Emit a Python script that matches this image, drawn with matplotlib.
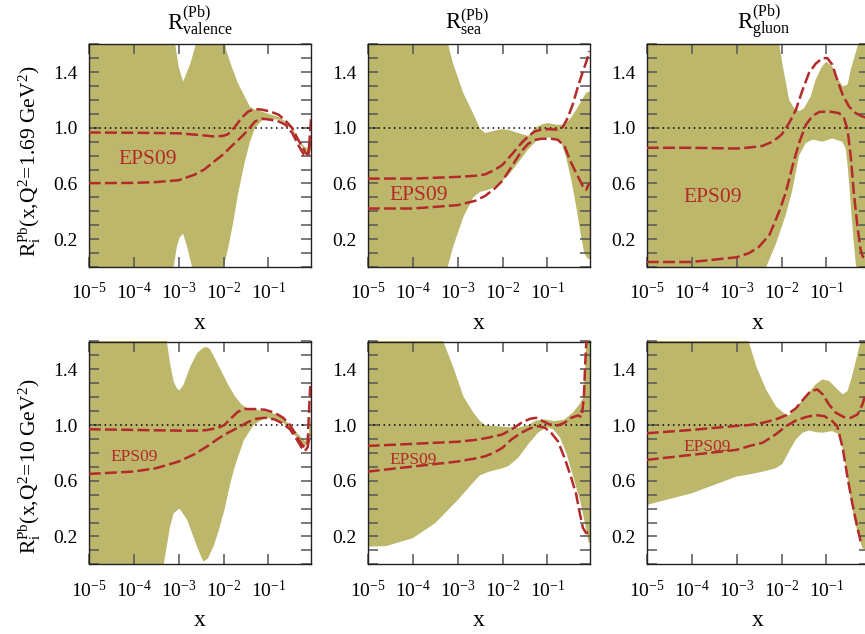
import numpy as np
import matplotlib
matplotlib.use("Agg")
import matplotlib.pyplot as plt
from matplotlib.ticker import FixedLocator, NullLocator, MultipleLocator, FormatStrFormatter

# ---------------- data: (log10 x, R) pairs ----------------
# valence, Q^2 = 1.69
VAL1_BAND_UP = [(-5, 1.7), (-3.12, 1.7), (-3.0, 1.44), (-2.9, 1.33), (-2.74, 1.46), (-2.57, 1.65),
                (-2.5, 1.7), (-2.02, 1.7), (-1.94, 1.56), (-1.83, 1.45), (-1.68, 1.32), (-1.53, 1.225),
                (-1.41, 1.15), (-1.30, 1.13), (-1.15, 1.117), (-1.0, 1.10), (-0.77, 1.077), (-0.62, 1.045),
                (-0.47, 0.998), (-0.32, 0.918), (-0.21, 0.866), (-0.14, 0.854), (-0.06, 0.90), (0.0, 0.95)]
VAL1_BAND_LO = [(-5, -0.1), (-3.13, -0.1), (-3.11, 0.0), (-3.04, 0.144), (-2.98, 0.21), (-2.90, 0.24),
                (-2.81, 0.144), (-2.70, 0.0), (-2.68, -0.1), (-2.02, -0.1), (-2.0, 0.0), (-1.9, 0.13),
                (-1.79, 0.31), (-1.68, 0.52), (-1.53, 0.75), (-1.41, 0.90), (-1.30, 0.998), (-1.15, 1.05),
                (-1.0, 1.063), (-0.77, 1.058), (-0.62, 1.034), (-0.47, 0.98), (-0.32, 0.90), (-0.21, 0.842),
                (-0.10, 0.82), (0.0, 0.85)]
VAL1_EPS_UP = [(-5, 0.966), (-4, 0.964), (-3, 0.96), (-2.5, 0.947), (-2.2, 0.937), (-2.0, 0.942),
               (-1.9, 0.954), (-1.75, 1.005), (-1.6, 1.07), (-1.45, 1.117), (-1.3, 1.134), (-1.15, 1.13),
               (-0.96, 1.117), (-0.77, 1.093), (-0.62, 1.05), (-0.47, 0.998), (-0.36, 0.926), (-0.26, 0.87),
               (-0.17, 0.818), (-0.11, 0.806), (-0.08, 0.937), (-0.05, 1.07)]
VAL1_EPS_LO = [(-5, 0.602), (-4, 0.604), (-3.5, 0.61), (-3, 0.623), (-2.65, 0.662), (-2.43, 0.70),
               (-2.2, 0.76), (-2.0, 0.81), (-1.83, 0.865), (-1.6, 0.935), (-1.45, 0.985), (-1.3, 1.045),
               (-1.15, 1.065), (-0.96, 1.058), (-0.77, 1.045), (-0.62, 1.022), (-0.47, 0.962), (-0.32, 0.866),
               (-0.21, 0.806), (-0.14, 0.80), (-0.10, 0.84), (-0.06, 0.93)]

# sea, Q^2 = 1.69
SEA1_BAND_UP = [(-5, 1.7), (-3.25, 1.7), (-3.21, 1.6), (-3.1, 1.46), (-2.87, 1.247), (-2.65, 1.10),
                (-2.5, 0.995), (-2.39, 0.962), (-2.24, 0.974), (-2.02, 0.99), (-1.87, 0.985), (-1.65, 0.962),
                (-1.43, 0.942), (-1.28, 0.998), (-1.14, 1.022), (-0.99, 1.034), (-0.8, 1.022), (-0.66, 1.022),
                (-0.51, 1.057), (-0.36, 1.129), (-0.25, 1.19), (-0.14, 1.25), (-0.07, 1.26), (0.0, 1.27)]
SEA1_BAND_LO = [(-5, -0.1), (-3.24, -0.1), (-3.22, 0.0), (-3.1, 0.144), (-2.87, 0.36), (-2.65, 0.50),
                (-2.5, 0.54), (-2.36, 0.55), (-2.2, 0.57), (-2.0, 0.62), (-1.87, 0.66), (-1.72, 0.72),
                (-1.58, 0.78), (-1.43, 0.845), (-1.28, 0.895), (-1.14, 0.926), (-0.99, 0.93), (-0.84, 0.923),
                (-0.70, 0.90), (-0.59, 0.794), (-0.47, 0.626), (-0.36, 0.434), (-0.25, 0.218), (-0.18, 0.098),
                (-0.11, 0.062), (0.0, 0.05)]
SEA1_EPS_UP = [(-5, 0.635), (-4, 0.635), (-3, 0.647), (-2.61, 0.655), (-2.39, 0.665), (-2.17, 0.698),
               (-2.0, 0.734), (-1.8, 0.806), (-1.58, 0.89), (-1.43, 0.938), (-1.28, 0.974), (-1.14, 0.986),
               (-0.99, 0.99), (-0.77, 0.986), (-0.66, 1.005), (-0.55, 1.07), (-0.44, 1.165), (-0.32, 1.297),
               (-0.21, 1.405), (-0.12, 1.489), (-0.07, 1.55)]
SEA1_EPS_LO = [(-5, 0.42), (-4, 0.42), (-3, 0.444), (-2.61, 0.475), (-2.39, 0.51), (-2.17, 0.565),
               (-2.0, 0.62), (-1.8, 0.72), (-1.58, 0.83), (-1.43, 0.885), (-1.28, 0.912), (-1.14, 0.921),
               (-0.92, 0.921), (-0.77, 0.914), (-0.62, 0.866), (-0.47, 0.746), (-0.32, 0.65), (-0.21, 0.578),
               (-0.14, 0.554), (-0.07, 0.602)]

# gluon, Q^2 = 1.69
GLU1_BAND_UP = [(-5, 1.7), (-2.07, 1.7), (-2.05, 1.6), (-1.97, 1.44), (-1.83, 1.2), (-1.72, 1.14),
                (-1.6, 1.12), (-1.5, 1.14), (-1.35, 1.225), (-1.24, 1.345), (-1.1, 1.44), (-1.0, 1.475),
                (-0.87, 1.44), (-0.76, 1.36), (-0.64, 1.297), (-0.53, 1.31), (-0.46, 1.417), (-0.35, 1.537),
                (-0.28, 1.62), (-0.26, 1.7), (0.0, 1.7)]
GLU1_BAND_LO = [(-5, -0.1), (-2.36, -0.1), (-2.34, 0.0), (-2.12, 0.17), (-1.9, 0.38), (-1.76, 0.55),
                (-1.61, 0.80), (-1.46, 0.89), (-1.31, 0.915), (-1.09, 0.90), (-0.87, 0.923), (-0.65, 0.90),
                (-0.57, 0.85), (-0.52, 0.70), (-0.46, 0.45), (-0.40, 0.2), (-0.34, 0.0), (-0.32, -0.1),
                (0.0, -0.1)]
GLU1_EPS_UP = [(-5, 0.856), (-4, 0.856), (-3, 0.851), (-2.72, 0.858), (-2.42, 0.87), (-2.2, 0.9),
               (-2.0, 0.95), (-1.83, 1.034), (-1.68, 1.13), (-1.53, 1.273), (-1.39, 1.393), (-1.24, 1.46),
               (-1.09, 1.5), (-0.98, 1.5), (-0.87, 1.453), (-0.76, 1.345), (-0.64, 1.237), (-0.5, 1.153),
               (-0.35, 1.105), (-0.2, 1.081), (-0.1, 1.07)]
GLU1_EPS_LO = [(-5, 0.036), (-4, 0.036), (-3, 0.07), (-2.72, 0.1), (-2.5, 0.146), (-2.27, 0.23),
               (-2.05, 0.40), (-1.9, 0.54), (-1.76, 0.72), (-1.61, 0.89), (-1.46, 1.02), (-1.31, 1.086),
               (-1.16, 1.113), (-0.94, 1.117), (-0.72, 1.105), (-0.61, 1.07), (-0.53, 0.986), (-0.46, 0.794),
               (-0.39, 0.53), (-0.31, 0.29), (-0.24, 0.122), (-0.19, 0.074), (-0.1, 0.06)]

# valence, Q^2 = 10
VAL2_BAND_UP = [(-5, 1.7), (-3.28, 1.7), (-3.26, 1.6), (-3.19, 1.444), (-3.11, 1.313), (-3.04, 1.265),
                (-2.98, 1.248), (-2.89, 1.289), (-2.74, 1.42), (-2.59, 1.516), (-2.45, 1.555), (-2.38, 1.561),
                (-2.3, 1.545), (-2.2, 1.484), (-2.05, 1.388), (-1.9, 1.292), (-1.75, 1.208), (-1.6, 1.148),
                (-1.46, 1.12), (-1.31, 1.112), (-1.08, 1.10), (-0.86, 1.081), (-0.67, 1.048), (-0.52, 1.0),
                (-0.37, 0.945), (-0.26, 0.909), (-0.19, 0.885), (-0.11, 0.909), (-0.06, 1.05), (0.0, 1.1)]
VAL2_BAND_LO = [(-5, -0.1), (-3.35, -0.1), (-3.33, 0.0), (-3.19, 0.27), (-3.11, 0.366), (-2.98, 0.40),
                (-2.81, 0.32), (-2.59, 0.127), (-2.45, 0.02), (-2.35, 0.04), (-2.22, 0.13), (-2.1, 0.25),
                (-1.98, 0.39), (-1.85, 0.58), (-1.75, 0.70), (-1.55, 0.89), (-1.33, 1.0), (-1.08, 1.052),
                (-0.86, 1.04), (-0.67, 1.016), (-0.52, 0.969), (-0.37, 0.909), (-0.26, 0.865), (-0.19, 0.849),
                (-0.11, 0.87), (-0.06, 0.9), (0.0, 0.9)]
VAL2_EPS_UP = [(-5, 0.97), (-4, 0.965), (-3, 0.96), (-2.5, 0.96), (-2.35, 0.965), (-2.13, 0.98),
               (-1.98, 1.0), (-1.83, 1.05), (-1.68, 1.095), (-1.53, 1.115), (-1.31, 1.115), (-1.08, 1.11),
               (-0.86, 1.088), (-0.67, 1.052), (-0.52, 1.0), (-0.37, 0.921), (-0.26, 0.861), (-0.19, 0.837),
               (-0.13, 0.86), (-0.1, 1.076), (-0.07, 1.28)]
VAL2_EPS_LO = [(-5, 0.649), (-4, 0.666), (-3.5, 0.69), (-3, 0.738), (-2.65, 0.79), (-2.35, 0.85),
               (-2.13, 0.9), (-1.9, 0.945), (-1.68, 0.981), (-1.46, 1.021), (-1.27, 1.045), (-1.08, 1.052),
               (-0.86, 1.04), (-0.67, 1.009), (-0.52, 0.969), (-0.37, 0.897), (-0.26, 0.837), (-0.19, 0.813),
               (-0.13, 0.84), (-0.08, 0.93)]

# sea, Q^2 = 10
SEA2_BAND_UP = [(-5, 1.7), (-3.34, 1.7), (-3.32, 1.6), (-3.1, 1.42), (-2.87, 1.205), (-2.65, 1.09),
                (-2.5, 1.028), (-2.39, 1.0), (-2.17, 0.993), (-1.87, 0.985), (-1.65, 0.981), (-1.43, 1.0),
                (-1.25, 1.033), (-1.06, 1.04), (-0.84, 1.028), (-0.62, 1.04), (-0.44, 1.088), (-0.29, 1.148),
                (-0.2, 1.2), (-0.16, 1.4), (-0.13, 1.7), (0.0, 1.7)]
SEA2_BAND_LO = [(-5, 0.127), (-4.6, 0.13), (-4, 0.187), (-3.5, 0.295), (-3, 0.46), (-2.7, 0.57),
                (-2.5, 0.64), (-2.3, 0.665), (-2.0, 0.69), (-1.87, 0.705), (-1.65, 0.765), (-1.43, 0.861),
                (-1.21, 0.945), (-1.02, 0.985), (-0.87, 0.969), (-0.72, 0.909), (-0.57, 0.789), (-0.42, 0.621),
                (-0.27, 0.453), (-0.16, 0.285), (-0.09, 0.165), (-0.05, 0.15), (0.0, 0.15)]
SEA2_EPS_UP = [(-5, 0.85), (-4, 0.865), (-3, 0.88), (-2.61, 0.893), (-2.32, 0.909), (-2.0, 0.933),
               (-1.8, 0.969), (-1.58, 1.016), (-1.39, 1.045), (-1.25, 1.052), (-1.1, 1.028), (-0.95, 1.004),
               (-0.77, 0.997), (-0.62, 1.016), (-0.47, 1.052), (-0.32, 1.069), (-0.24, 1.057), (-0.19, 1.196),
               (-0.16, 1.436), (-0.13, 1.63)]
SEA2_EPS_LO = [(-5, 0.666), (-4, 0.702), (-3, 0.738), (-2.61, 0.76), (-2.39, 0.775), (-2.17, 0.805),
               (-2.0, 0.837), (-1.8, 0.897), (-1.58, 0.945), (-1.39, 0.976), (-1.21, 0.992), (-1.06, 0.981),
               (-0.92, 0.945), (-0.77, 0.885), (-0.62, 0.765), (-0.47, 0.621), (-0.36, 0.501), (-0.29, 0.381),
               (-0.21, 0.261), (-0.14, 0.225), (-0.08, 0.23)]

# gluon, Q^2 = 10
GLU2_BAND_UP = [(-5, 1.7), (-2.76, 1.7), (-2.73, 1.6), (-2.56, 1.42), (-2.34, 1.253), (-2.12, 1.133),
                (-1.9, 1.073), (-1.83, 1.07), (-1.68, 1.124), (-1.46, 1.208), (-1.24, 1.292), (-1.09, 1.328),
                (-0.94, 1.316), (-0.79, 1.268), (-0.64, 1.22), (-0.53, 1.244), (-0.42, 1.364), (-0.31, 1.508),
                (-0.24, 1.604), (-0.22, 1.7), (0.0, 1.7)]
GLU2_BAND_LO = [(-5, 0.426), (-4, 0.51), (-3, 0.63), (-2.72, 0.645), (-2.42, 0.665), (-2.13, 0.69),
                (-1.98, 0.72), (-1.83, 0.813), (-1.68, 0.897), (-1.53, 0.945), (-1.39, 0.961), (-1.24, 0.949),
                (-1.09, 0.945), (-0.87, 0.957), (-0.72, 0.933), (-0.61, 0.789), (-0.5, 0.549), (-0.39, 0.333),
                (-0.27, 0.189), (-0.2, 0.117), (-0.1, 0.1), (0.0, 0.1)]
GLU2_EPS_UP = [(-5, 0.941), (-4, 0.965), (-3, 0.994), (-2.72, 1.0), (-2.42, 1.016), (-2.13, 1.04),
               (-1.9, 1.07), (-1.68, 1.12), (-1.5, 1.19), (-1.35, 1.245), (-1.2, 1.255), (-1.08, 1.22),
               (-0.95, 1.15), (-0.79, 1.088), (-0.61, 1.057), (-0.46, 1.052), (-0.31, 1.076), (-0.2, 1.148),
               (-0.15, 1.2)]
GLU2_EPS_LO = [(-5, 0.75), (-4, 0.786), (-3, 0.822), (-2.72, 0.849), (-2.42, 0.873), (-2.13, 0.933),
               (-1.9, 0.992), (-1.68, 1.033), (-1.46, 1.057), (-1.24, 1.072), (-1.05, 1.064), (-0.87, 1.028),
               (-0.76, 0.992), (-0.64, 0.837), (-0.53, 0.621), (-0.42, 0.429), (-0.31, 0.261), (-0.24, 0.165),
               (-0.16, 0.15)]

TITLES = [r"$\mathregular{R^{(Pb)}_{valence}}$", r"$\mathregular{R^{(Pb)}_{sea}}$",
          r"$\mathregular{R^{(Pb)}_{gluon}}$"]
YLABELS = [r"$\mathregular{R_i^{Pb}(x,\!Q^2\!=\!1.69\ GeV^2)}$",
           r"$\mathregular{R_i^{Pb}(x,\!Q^2\!=\!10\ GeV^2)}$"]
XTICKS = [1e-5, 1e-4, 1e-3, 1e-2, 1e-1]
YTICKS = [0.2, 0.6, 1.0, 1.4]
LABEL = "EPS09"

# ---------------- style / layout ----------------
plt.rcParams.update({
    "font.family": ["Liberation Serif", "DejaVu Serif"],
    "mathtext.fontset": "custom",
    "mathtext.rm": "Liberation Serif",
    "mathtext.it": "Liberation Serif:italic",
    "mathtext.bf": "Liberation Serif:bold",
})
BAND = "#bdb76b"
RED = "#b22a2a"
W, H = 865.0, 634.0
COL_LEFT = [88.7, 367.7, 646.7]
ROW_BOTTOM = [267.0, 564.3]
AX_W, AX_H = 222.0, 222.8
TITLE_X = [167, 445, 737]
EPS_POS = [[(0.132, 0.462), (0.10, 0.30), (0.164, 0.291)],
           [(0.096, 0.464), (0.10, 0.451), (0.164, 0.509)]]
EPS_FS = [15.5, 12.5]

panels = [
    [(VAL1_BAND_UP, VAL1_BAND_LO, VAL1_EPS_UP, VAL1_EPS_LO),
     (SEA1_BAND_UP, SEA1_BAND_LO, SEA1_EPS_UP, SEA1_EPS_LO),
     (GLU1_BAND_UP, GLU1_BAND_LO, GLU1_EPS_UP, GLU1_EPS_LO)],
    [(VAL2_BAND_UP, VAL2_BAND_LO, VAL2_EPS_UP, VAL2_EPS_LO),
     (SEA2_BAND_UP, SEA2_BAND_LO, SEA2_EPS_UP, SEA2_EPS_LO),
     (GLU2_BAND_UP, GLU2_BAND_LO, GLU2_EPS_UP, GLU2_EPS_LO)],
]

fig = plt.figure(figsize=(W / 100, H / 100), dpi=100)


def xy(pairs):
    a = np.array(pairs, dtype=float)
    return 10 ** a[:, 0], a[:, 1]


for r in range(2):
    for c in range(3):
        bu, bl, eu, el = panels[r][c]
        ax = fig.add_axes([COL_LEFT[c] / W, 1 - ROW_BOTTOM[r] / H, AX_W / W, AX_H / H])
        ax.set_xscale("log")
        xu, yu = xy(bu)
        xl, yl = xy(bl)
        ax.fill(np.concatenate([xu, xl[::-1]]), np.concatenate([yu, yl[::-1]]),
                color=BAND, lw=0, zorder=1)
        ax.axhline(1.0, color="k", lw=1.1, ls=(0, (1, 2.4)), zorder=2)
        for cur in (eu, el):
            x, y = xy(cur)
            ax.plot(x, y, color=RED, lw=1.8, dashes=(4.8, 1.7), zorder=3)
        ax.set_xlim(1e-5, 10 ** -0.06)
        ax.set_ylim(0, 1.6)
        ax.xaxis.set_major_locator(FixedLocator(XTICKS))
        ax.xaxis.set_minor_locator(NullLocator())
        ax.yaxis.set_major_locator(FixedLocator(YTICKS))
        ax.yaxis.set_minor_locator(MultipleLocator(0.1))
        ax.yaxis.set_major_formatter(FormatStrFormatter("%.1f"))
        ax.tick_params(which="both", direction="in", top=True, right=True,
                       length=7, width=1.1, color="#555555")
        ax.tick_params(axis="x", labelsize=14, pad=11)
        ax.tick_params(axis="y", labelsize=14, pad=8)
        for s in ax.spines.values():
            s.set_linewidth(1.0)
            s.set_color("#222222")
        ax.set_xlabel("x", fontsize=17, labelpad=7)
        ex, ey = EPS_POS[r][c]
        ax.text(ex, ey, LABEL, transform=ax.transAxes, color=RED, fontsize=EPS_FS[r],
                ha="left", va="baseline", zorder=4)

for c in range(3):
    fig.text(TITLE_X[c] / W, 1 - 29 / H, TITLES[c], fontsize=16.5, ha="left", va="baseline")

fig.text(30 / W, 1 - 161 / H, YLABELS[0], rotation=90, fontsize=15.5, ha="center", va="center")
fig.text(30 / W, 1 - 466 / H, YLABELS[1], rotation=90, fontsize=15.5, ha="center", va="center")

fig.savefig("out.png", dpi=100)
